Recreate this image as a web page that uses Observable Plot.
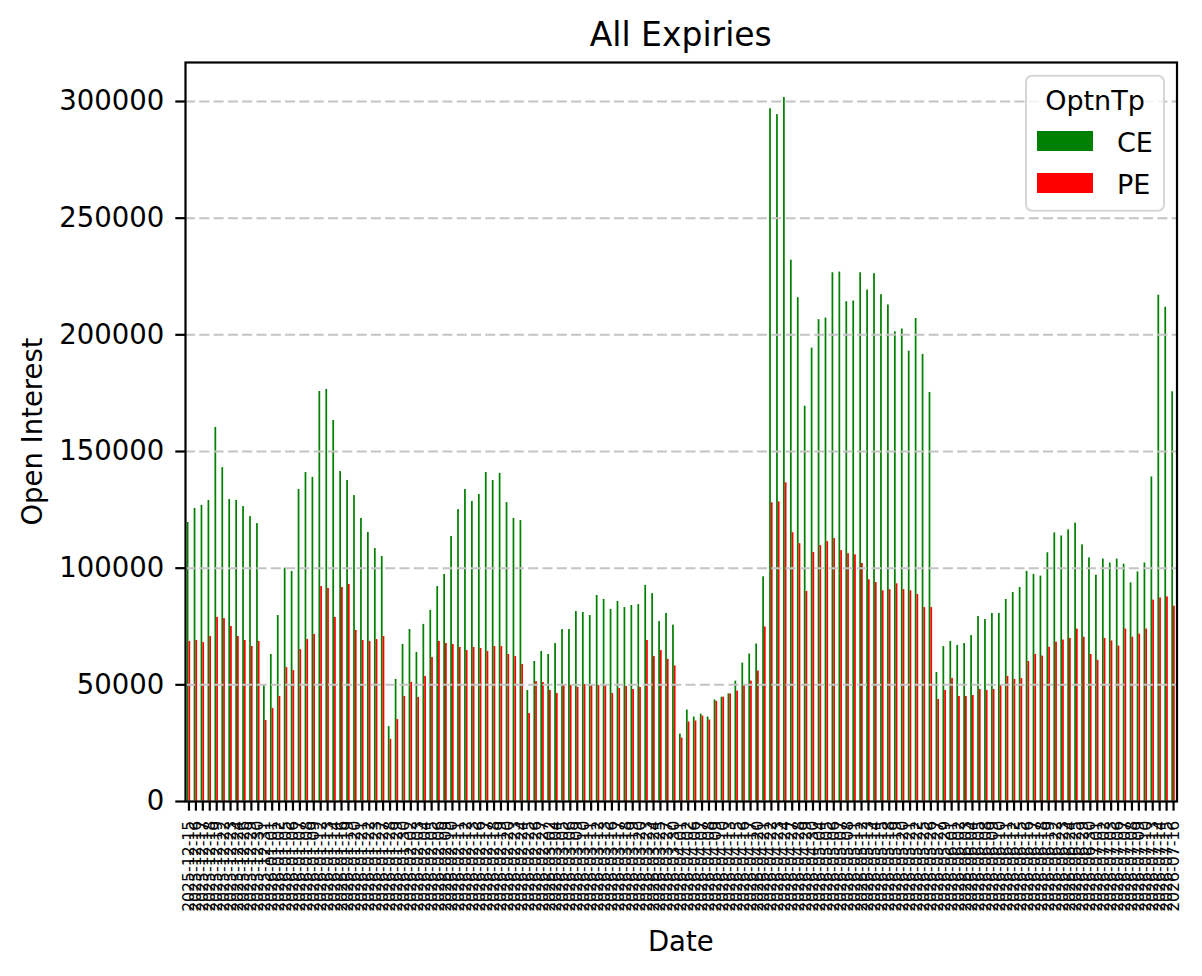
<!DOCTYPE html>
<html><head><meta charset="utf-8">
<script src="https://cdn.jsdelivr.net/npm/d3@7"></script>
<script src="https://cdn.jsdelivr.net/npm/@observablehq/plot@0.6"></script>
<style>body{margin:0;background:#fff} svg{display:block}</style>
</head><body><div id="chart"></div>
<script>
const dates = [
"2025-12-15","2025-12-16","2025-12-17","2025-12-18","2025-12-19","2025-12-22","2025-12-23","2025-12-24","2025-12-26","2025-12-29","2025-12-30","2025-12-31",
"2026-01-01","2026-01-02","2026-01-05","2026-01-06","2026-01-07","2026-01-08","2026-01-09","2026-01-12","2026-01-13","2026-01-14","2026-01-16","2026-01-19","2026-01-20","2026-01-21","2026-01-22","2026-01-23","2026-01-27","2026-01-28","2026-01-29","2026-01-30",
"2026-02-02","2026-02-03","2026-02-04","2026-02-05","2026-02-06","2026-02-09","2026-02-10","2026-02-11","2026-02-12","2026-02-13","2026-02-16","2026-02-17","2026-02-18","2026-02-19","2026-02-20","2026-02-23","2026-02-24","2026-02-25","2026-02-26","2026-02-27",
"2026-03-02","2026-03-04","2026-03-05","2026-03-06","2026-03-09","2026-03-10","2026-03-11","2026-03-12","2026-03-13","2026-03-16","2026-03-17","2026-03-18","2026-03-19","2026-03-20","2026-03-23","2026-03-24","2026-03-25","2026-03-27","2026-03-30",
"2026-04-01","2026-04-02","2026-04-06","2026-04-07","2026-04-08","2026-04-09","2026-04-10","2026-04-13","2026-04-15","2026-04-16","2026-04-17","2026-04-20","2026-04-21","2026-04-22","2026-04-23","2026-04-24","2026-04-27","2026-04-28","2026-04-29","2026-04-30",
"2026-05-04","2026-05-05","2026-05-06","2026-05-07","2026-05-08","2026-05-11","2026-05-12","2026-05-13","2026-05-14","2026-05-15","2026-05-18","2026-05-19","2026-05-20","2026-05-21","2026-05-22","2026-05-25","2026-05-26","2026-05-27","2026-05-29",
"2026-06-01","2026-06-02","2026-06-03","2026-06-04","2026-06-05","2026-06-08","2026-06-09","2026-06-10","2026-06-11","2026-06-12","2026-06-15","2026-06-16","2026-06-17","2026-06-18","2026-06-19","2026-06-22","2026-06-23","2026-06-24","2026-06-25","2026-06-29","2026-06-30",
"2026-07-01","2026-07-02","2026-07-03","2026-07-06","2026-07-07","2026-07-08","2026-07-09","2026-07-10","2026-07-13","2026-07-14","2026-07-15","2026-07-16"
];
const ceOI = [
119600,125600,126900,129000,160300,143100,129400,129000,126400,122100,
119100,49700,63000,79700,100000,98600,133700,141000,138900,175700,
176600,163300,141400,137600,131100,121300,115300,108400,105000,32100,
52300,67300,73700,63900,75900,81900,92100,97300,113600,125100,
133700,128600,131600,141000,137600,140600,128100,121300,120400,47600,
60000,64300,63000,67700,73700,73700,81400,81000,79700,88300,
86600,82300,85700,83100,84000,84400,92600,89100,77100,80600,
75600,28900,39200,36200,37400,36200,43500,44700,46100,51600,
59300,63200,67500,96300,296900,294400,301700,232000,215900,169400,
194300,206500,207200,226600,226900,214200,214500,226600,219200,226200,
217200,212800,201300,202500,193000,207000,191600,175300,55300,66400,
68600,66900,67700,71100,79300,78000,80600,80600,86600,89600,
91700,98600,97300,96600,106600,115100,113800,116400,119300,110000,
104400,97000,103900,102200,103900,101700,93700,98400,102200,139100,
217000,211800,175600
];
const peOI = [
68600,69000,68100,70700,78900,78400,75000,70700,69000,66400,
68600,34700,39900,45000,57400,56100,65100,69400,71600,92100,
91300,78900,91700,93000,73300,69000,68600,69400,70700,26600,
35100,45000,51000,44600,53600,61700,68600,67700,67300,66000,
64700,66000,65600,64300,66400,66400,63000,62100,58700,37700,
51400,51000,47600,46300,49700,49700,48900,50100,49700,49700,
49700,46300,48400,49300,48000,48900,69000,62100,64700,60900,
58100,27200,34100,34500,36600,34900,42900,44700,46100,47300,
50000,51600,55900,74800,128000,128400,136600,115200,110500,90000,
106700,109700,111400,112700,107500,106200,105700,102000,95000,93800,
90300,90800,93300,90800,90300,88700,83100,83100,43700,47600,
52700,45000,45000,45400,48000,47600,48000,49700,53600,52300,
52700,60000,63000,62300,66100,68300,69200,69900,73900,70400,
63000,60500,69900,68800,66600,73900,70400,71700,73900,86300,
87200,87700,83700
];
const optionTypes = ["CE", "PE"];
const typeColors = ["#008000", "#ff0000"];
const yTicks = [0, 50000, 100000, 150000, 200000, 250000, 300000];
const titleText = "All Expiries";
const xLabel = "Date";
const yLabel = "Open Interest";
const legendTitle = "OptnTp";

const rows = [];
dates.forEach((d, i) => {
  rows.push({i, date: d, type: optionTypes[0], oi: ceOI[i]});
  rows.push({i, date: d, type: optionTypes[1], oi: peOI[i]});
});
const barW = 0.25;
const W = 1202, H = 976, mL = 185, mR = 25.5, mT = 62, mB = 175;
const font = "DejaVu Sans";

const plot = Plot.plot({
  width: W, height: H,
  marginLeft: mL, marginRight: mR, marginTop: mT, marginBottom: mB,
  style: {fontFamily: font, background: "white", overflow: "visible"},
  x: {type: "linear", domain: [-0.5, dates.length - 0.5]},
  y: {domain: [0, 316714]},
  color: {domain: optionTypes, range: typeColors},
  marks: [
    Plot.rectY(rows, {
      x1: d => d.type === "CE" ? d.i - barW : d.i,
      x2: d => d.type === "CE" ? d.i : d.i + barW,
      y1: 0, y2: "oi", fill: "type"
    }),
    Plot.gridY(yTicks, {stroke: "#c4c4c4", strokeOpacity: 1, strokeWidth: 2, strokeDasharray: "10,4.3"}),
    Plot.axisY(yTicks, {tickFormat: d => String(d), tickSize: 9.7, tickPadding: 11.5, fontSize: 27.5, strokeWidth: 2.2, label: null}),
    Plot.axisX(d3.range(dates.length), {tickFormat: i => dates[i], tickRotate: -90, tickSize: 9.7, tickPadding: 9.5, fontSize: 15.7, strokeWidth: 2.2, label: null}),
    Plot.frame({stroke: "black", strokeWidth: 2.2})
  ]
});

const svg = d3.select(plot);
const cx = (mL + (W - mR)) / 2;
svg.append("text").attr("x", cx).attr("y", 46).attr("text-anchor", "middle")
  .attr("font-family", font).attr("font-size", 33).attr("fill", "black").text(titleText);
svg.append("text").attr("x", cx).attr("y", 951).attr("text-anchor", "middle")
  .attr("font-family", font).attr("font-size", 27.5).attr("fill", "black").text(xLabel);
svg.append("text").attr("transform", `translate(42,${(mT + (H - mB)) / 2}) rotate(-90)`).attr("text-anchor", "middle")
  .attr("font-family", font).attr("font-size", 27.5).attr("fill", "black").text(yLabel);

// legend
const color = plot.scale("color");
const lg = svg.append("g");
lg.append("rect").attr("x", 1026).attr("y", 75.7).attr("width", 138).attr("height", 135).attr("rx", 6)
  .attr("fill", "white").attr("fill-opacity", 0.8).attr("stroke", "#d6d6d6").attr("stroke-width", 2);
lg.append("text").attr("x", 1095).attr("y", 109.5).attr("text-anchor", "middle")
  .attr("font-family", font).attr("font-size", 27).attr("fill", "black").text(legendTitle);
optionTypes.forEach((t, k) => {
  const y0 = 131 + k * 42;
  lg.append("rect").attr("x", 1037).attr("y", y0).attr("width", 56).attr("height", 20).attr("fill", color.apply(t));
  lg.append("text").attr("x", 1117).attr("y", y0 + 21.3).attr("text-anchor", "start")
    .attr("font-family", font).attr("font-size", 27).attr("fill", "black").text(t);
});

document.getElementById("chart").appendChild(plot);
</script>
</body></html>
